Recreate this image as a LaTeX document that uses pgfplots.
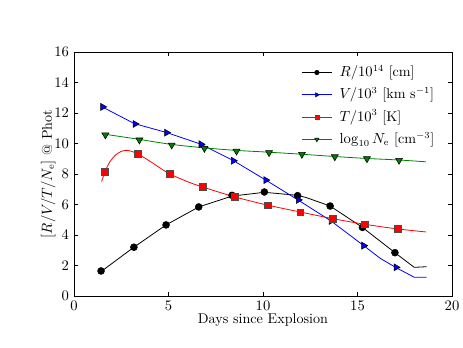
\documentclass[border=0pt]{standalone}
\usepackage{pgfplots}
\pgfplotsset{compat=1.18}
\definecolor{mplgreen}{rgb}{0,0.5,0}
\pgfplotsset{every axis/.append style={
  width=283.5pt, height=183pt, scale only axis,
  tick align=inside, major tick length=3pt,
  axis line style={line width=0.7pt},
  every tick/.style={black, line width=0.5pt},
  legend style={draw=none, fill=none, font=\fontsize{10.6}{13}\selectfont, row sep=1.3pt,
    nodes={inner sep=2pt, text height=1.9ex, text depth=0.6ex}},
  label style={font=\fontsize{10.6}{13}\selectfont},
  ticklabel style={font=\fontsize{10.6}{13}\selectfont}}}
\begin{document}
\fontsize{10.6}{13}\selectfont
\begin{tikzpicture}
\begin{axis}[
  at={(0,0)}, anchor=south west,
  xmin=0, xmax=20, ymin=0, ymax=16,
  xtick={0,5,10,15,20}, ytick={0,2,4,6,8,10,12,14,16},
  xlabel={Days since Explosion},
  ylabel={$[R/V/T/N_{\rm e}]$ @ Phot},
  xlabel style={yshift=5pt},
  ylabel style={yshift=-8pt},
  legend cell align=left,
  legend style={at={(0.59,0.97)}, anchor=north west},
  legend image code/.code={\draw[mark repeat=2,mark phase=2] plot coordinates {(0cm,0cm)(0.4cm,0cm)(0.8cm,0cm)};
    \path (0.92cm,0cm);}]
% radius R/1e14 cm
\addplot[black, line width=0.6pt, forget plot] coordinates {
  (1.43,1.6)(3.17,3.2)(4.87,4.66)(6.6,5.84)(8.36,6.55)(10.07,6.8)
  (11.83,6.6)(12.3,6.45)(13.55,5.9)(15.26,4.5)(16.98,2.84)(18.0,1.88)(18.66,1.92)};
% velocity V/1e3 km/s
\addplot[blue, line width=0.6pt, forget plot] coordinates {
  (1.46,12.42)(3.2,11.3)(4.9,10.72)(6.7,9.96)(8.43,8.88)(10.15,7.6)
  (11.85,6.3)(13.6,4.92)(15.33,3.3)(16.2,2.47)(17.04,1.86)(18.0,1.23)(18.66,1.23)};
% temperature T/1e3 K
\addplot[red, line width=0.6pt, smooth, tension=0.5, forget plot] coordinates {
  (1.46,7.5)(1.64,8.15)(1.9,8.8)(2.2,9.25)(2.5,9.48)(2.75,9.55)(3.0,9.5)
  (3.37,9.32)(4.0,8.85)(5.0,8.05)(6.0,7.5)(6.8,7.15)(8.5,6.5)(10.2,5.97)
  (12.0,5.5)(13.7,5.07)(15.4,4.7)(17.1,4.4)(18.62,4.2)};
% log10 Ne
\addplot[mplgreen, line width=0.6pt, smooth, tension=0.5, forget plot] coordinates {
  (1.46,10.64)(3.4,10.28)(5.1,9.95)(6.85,9.72)(8.55,9.55)(10.3,9.43)
  (12.0,9.3)(13.75,9.15)(15.45,9.02)(17.15,8.92)(18.62,8.8)};
% markers
\addplot[only marks, mark=*, mark size=2.6pt, mark options={fill=black, draw=black}, forget plot] coordinates {
  (1.43,1.64)(3.17,3.2)(4.87,4.66)(6.6,5.84)(8.36,6.6)(10.07,6.82)
  (11.83,6.58)(13.55,5.9)(15.26,4.5)(16.98,2.84)};
\addplot[only marks, mark=triangle*, mark size=3pt, mark options={rotate=-90, fill=blue, draw=black, line width=0.4pt}, forget plot] coordinates {
  (1.52,12.4)(3.23,11.28)(4.9,10.71)(6.72,9.95)(8.43,8.87)(10.15,7.6)
  (11.87,6.3)(13.6,4.92)(15.33,3.3)(17.04,1.88)};
\addplot[only marks, mark=square*, mark size=2.5pt, mark options={fill=red, draw=black!70, line width=0.4pt}, forget plot] coordinates {
  (1.64,8.13)(3.37,9.31)(5.08,8.02)(6.8,7.15)(8.52,6.49)(10.24,5.95)
  (11.98,5.49)(13.7,5.05)(15.4,4.7)(17.14,4.39)};
\addplot[only marks, mark=triangle*, mark size=3pt, mark options={rotate=180, fill=mplgreen, draw=black, line width=0.4pt}, forget plot] coordinates {
  (1.66,10.56)(3.46,10.23)(5.17,9.9)(6.9,9.68)(8.6,9.5)(10.32,9.4)
  (12.06,9.29)(13.8,9.13)(15.5,9.0)(17.2,8.9)};
% legend
\addlegendimage{black, line width=0.6pt, mark=*, mark size=1.6pt, mark options={fill=black}}
\addlegendentry{$R/10^{14}$ [cm]}
\addlegendimage{blue, line width=0.6pt, mark=triangle*, mark size=1.9pt, mark options={rotate=-90, fill=blue, draw=black, line width=0.3pt}}
\addlegendentry{$V/10^{3}$ [km s$^{-1}$]}
\addlegendimage{red, line width=0.6pt, mark=square*, mark size=1.6pt, mark options={fill=red, draw=black!70, line width=0.3pt}}
\addlegendentry{$T/10^{3}$ [K]}
\addlegendimage{mplgreen, line width=0.6pt, mark=triangle*, mark size=1.9pt, mark options={rotate=180, fill=mplgreen, draw=black, line width=0.3pt}}
\addlegendentry{$\log_{10} N_{\rm e}$ [cm$^{-3}$]}
\end{axis}
\pgfresetboundingbox
\path[use as bounding box] (-55.5pt,-39pt) rectangle (291.75pt,222pt);
\end{tikzpicture}
\end{document}
